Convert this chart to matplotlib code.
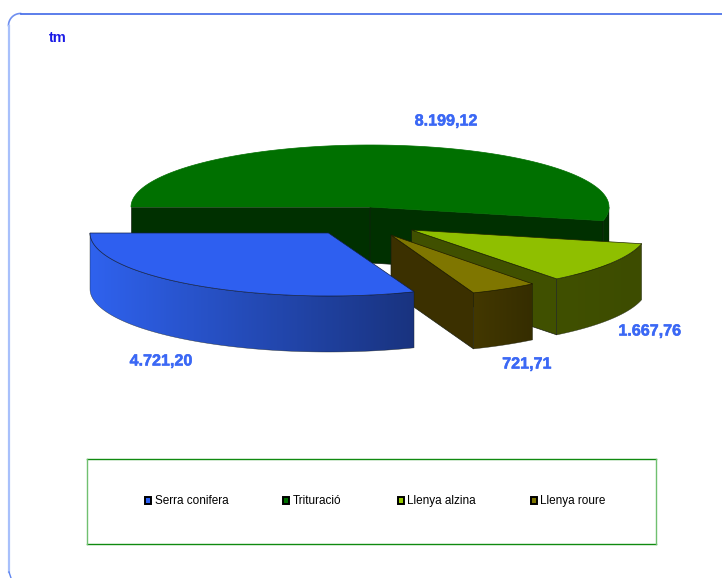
import numpy as np
import matplotlib
matplotlib.use("Agg")
import matplotlib.pyplot as plt
import matplotlib.patheffects as pe
from matplotlib.patches import Polygon, Rectangle
from matplotlib.colors import LinearSegmentedColormap

plt.rcParams['font.family'] = ['Liberation Sans', 'DejaVu Sans']

categories = ["Serra conifera", "Trituració", "Llenya alzina", "Llenya roure"]
values = [4721.20, 8199.12, 1667.76, 721.71]
value_labels = ["4.721,20", "8.199,12", "1.667,76", "721,71"]
unit_label = "tm"
legend_colors = ["#2e62f5", "#007000", "#99cc00", "#7f7600"]

# slice geometry in pixels: centre x, centre y, x radius, y radius
centers = [(328.5, 233), (370, 207), (411.5, 230), (391, 235)]
radii = [(238.5, 63), (239, 62), (236, 62), (230, 62)]
top_cols = ["#2e5ff0", "#007000", "#8fbf00", "#7f7600"]
top_edges = ["#10204a", "#007000", "#202800", "#201c00"]
rim_cols = [("#2f62ee", "#19337f"), ("#003000", "#003000"),
            ("#405000", "#3d4c00"), ("#433800", "#352d00")]
wall_cols = ["#1f3f9f", "#003000", "#405000", "#3b3000"]
depth = 56
label_xy = [(161, 361), (446, 121), (650, 331), (527, 364)]
legend_marker_x = [147.5, 285.5, 400.5, 533.5]
legend_text_x = [155, 293, 407, 540]

fig = plt.figure(figsize=(7.22, 5.78), dpi=100)
ax = fig.add_axes([0, 0, 1, 1])
ax.set_xlim(0, 722)
ax.set_ylim(578, 0)
ax.axis("off")

total = sum(values)
sweeps = [v / total * 360 for v in values]
# angles run clockwise on screen, Trituració starts at the left
angles = {}
a = 180.0
for i in (1, 2, 3, 0):
    angles[i] = (a, a - sweeps[i])
    a -= sweeps[i]


def arc(i, a0, a1, n=120):
    t = np.radians(np.linspace(a0, a1, n))
    cx, cy = centers[i]
    rx, ry = radii[i]
    return np.column_stack([cx + rx * np.cos(t), cy - ry * np.sin(t)])


def down(p):
    return p + np.array([0, depth])


EDGE = dict(edgecolor="#141a10", linewidth=0.45, joinstyle="round")


def wall(i, p):
    c = np.array(centers[i], float)
    ax.add_patch(Polygon([c, p, down(p), down(c)], closed=True,
                         facecolor=wall_cols[i], **EDGE))


def rim(i, a0, a1):
    """Visible outer rim between angles a0 and a1, shaded left to right."""
    top_pts = arc(i, a0, a1)
    pts = np.vstack([top_pts, down(top_pts)[::-1]])
    poly = Polygon(pts, closed=True, facecolor="none", edgecolor="none")
    ax.add_patch(poly)
    cmap = LinearSegmentedColormap.from_list("r", rim_cols[i])
    x0, x1 = pts[:, 0].min(), pts[:, 0].max()
    y0, y1 = pts[:, 1].min(), pts[:, 1].max()
    im = ax.imshow(np.linspace(0, 1, 256).reshape(1, -1), cmap=cmap,
                   extent=(x0, x1, y1, y0), aspect="auto",
                   zorder=poly.get_zorder(), interpolation="bilinear")
    im.set_clip_path(poly)
    ax.add_patch(Polygon(pts, closed=True, facecolor="none",
                         edgecolor="#141a10", linewidth=0.35, alpha=0.7))
    ax.set_xlim(0, 722)
    ax.set_ylim(578, 0)


def top(i, a0, a1):
    pts = np.vstack([[centers[i]], arc(i, a0, a1)])
    ax.add_patch(Polygon(pts, closed=True, facecolor=top_cols[i],
                         edgecolor=top_edges[i], linewidth=0.5))


# Trituració (back)
a0, a1 = angles[1]
wall(1, arc(1, a0, a0, 1)[0])
wall(1, arc(1, a1, a1, 1)[0])
rim(1, 0.0, a1)
top(1, a0, a1)

# Llenya alzina
a0, a1 = angles[2]
wall(2, arc(2, a1, a1, 1)[0])
rim(2, a0, a1)
top(2, a0, a1)

# Llenya roure
a0, a1 = angles[3]
wall(3, arc(3, a1, a1, 1)[0])
rim(3, a0, a1)
top(3, a0, a1)

# Serra conifera (front)
a0, a1 = angles[0]
rim(0, a0, a1)
top(0, a0, a1)

# value labels
for (x, y), s in zip(label_xy, value_labels):
    t = ax.text(x, y, s, color="#3b68f5", fontsize=11.6, fontweight="bold",
                ha="center", va="center")
    t.set_path_effects([pe.withStroke(linewidth=0.35, foreground="#3b68f5")])
ax.text(57.5, 38, unit_label, color="#1a1ae6", fontsize=10.5, fontweight="bold",
        ha="center", va="center")

# legend box
ax.plot([87, 656], [459, 459], color="#108a10", lw=1)
ax.plot([87, 656], [544, 544], color="#108a10", lw=1)
ax.plot([87, 87], [459, 544], color="#70c070", lw=1)
ax.plot([655.5, 655.5], [459, 544], color="#70c070", lw=1)
for mx, tx, c, s in zip(legend_marker_x, legend_text_x, legend_colors, categories):
    ax.add_patch(Rectangle((mx - 3, 497), 6.5, 6.5, facecolor=c, edgecolor="black", linewidth=1.4))
    ax.text(tx, 501, s, color="#000000", fontsize=8.5, ha="left", va="center")

# rounded outer frame
r = 12
t = np.radians(np.linspace(180, 270, 30))
cx_t, cy_t = 8.5 + r, 13.5 + r
ax.plot(cx_t + r * np.cos(t), cy_t + r * np.sin(t), color="#6f8ff0", lw=1.2)
ax.plot([cx_t, 722], [13.5, 13.5], color="#3f68e8", lw=1.2)
ax.plot([8.7, 8.7], [cy_t, 572], color="#a8c0fb", lw=1.6)
ax.plot([9, 11], [572, 578], color="#5f85f0", lw=1)

fig.savefig("out.png", dpi=100)
